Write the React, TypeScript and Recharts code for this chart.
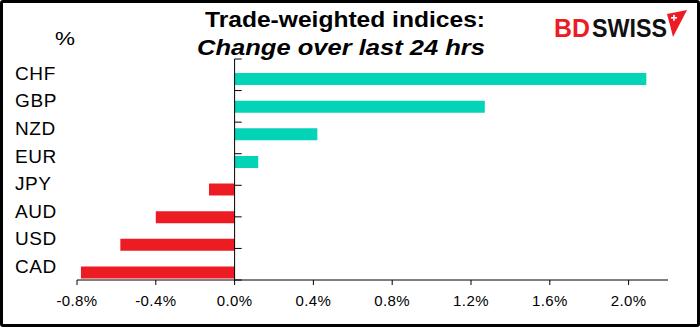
import { BarChart, Bar, XAxis, YAxis, ReferenceLine, Cell } from 'recharts';

// Trade-weighted index change over last 24 hrs, %
const currencies = ['CHF', 'GBP', 'NZD', 'EUR', 'JPY', 'AUD', 'USD', 'CAD'];
const changes = [2.09, 1.27, 0.42, 0.12, -0.13, -0.4, -0.58, -0.78];
const xTicks = [-0.8, -0.4, 0, 0.4, 0.8, 1.2, 1.6, 2.0];
const bandEdges = [0, 1, 2, 3, 4, 5, 6, 7];

const UP = '#03d3b7';
const DOWN = '#ed1c24';
const FONT = '"Liberation Sans", Arial, sans-serif';

const data = currencies.map((ccy, i) => ({ ccy, change: changes[i] }));

function CcyTick({ y, payload }: any) {
  return (
    <text x={15} y={y} dy="0.36em" fontSize={19} fill="#000" fontFamily={FONT} letterSpacing={0.6}>
      {payload.value}
    </text>
  );
}

export default function App() {
  return (
    <div style={{ position: 'relative', width: 700, height: 327, background: '#fff', fontFamily: FONT }}>
      <style>{'body{margin:0}'}</style>
      <BarChart
        width={700}
        height={327}
        data={data}
        layout="vertical"
        margin={{ top: 59, right: 32, bottom: 0, left: 15 }}
        barSize={12}
        barGap={1}
      >
        <XAxis
          type="number"
          domain={[-0.8, 2.2]}
          ticks={xTicks}
          interval={0}
          allowDataOverflow
          tickFormatter={(v: number) => v.toFixed(1) + '%'}
          axisLine={{ stroke: '#000' }}
          tickLine={{ stroke: '#000' }}
          tickSize={5}
          tickMargin={10}
          height={47}
          tick={{ fill: '#000', fontSize: 15, letterSpacing: 0.4 }}
        />
        <YAxis
          yAxisId="cat"
          type="category"
          dataKey="ccy"
          width={62}
          interval={0}
          axisLine={false}
          tickLine={false}
          tick={<CcyTick />}
        />
        <YAxis yAxisId="edge" type="number" domain={[0, 8]} reversed hide />
        <Bar yAxisId="cat" dataKey="pad" fill="none" isAnimationActive={false} />
        <Bar yAxisId="cat" dataKey="change" isAnimationActive={false}>
          {data.map((d) => (
            <Cell key={d.ccy} fill={d.change >= 0 ? UP : DOWN} />
          ))}
        </Bar>
        <ReferenceLine yAxisId="cat" x={0} stroke="#000" strokeWidth={1} />
        {bandEdges.map((k) => (
          <ReferenceLine
            key={k}
            yAxisId="edge"
            segment={[{ x: 0, y: k }, { x: 0.036, y: k }]}
            stroke="#000"
          />
        ))}
      </BarChart>

      <svg width={700} height={327} style={{ position: 'absolute', left: 0, top: 0, pointerEvents: 'none' }}>
        <text x={345} y={26.5} textAnchor="middle" fontSize={22} fontWeight="bold" fill="#000"
          textLength={280} lengthAdjust="spacingAndGlyphs">
          Trade-weighted indices:
        </text>
        <text x={341} y={55} textAnchor="middle" fontSize={22} fontWeight="bold" fontStyle="italic" fill="#000"
          textLength={288} lengthAdjust="spacingAndGlyphs">
          Change over last 24 hrs
        </text>
        <text x={55} y={45} fontSize={19} fill="#000" textLength={20} lengthAdjust="spacingAndGlyphs">%</text>

        <text x={554} y={36.5} fontSize={26} fontWeight="bold" fill={DOWN} textLength={36} lengthAdjust="spacingAndGlyphs">BD</text>
        <text x={592} y={36.5} fontSize={26} fontWeight="bold" fill="#111" textLength={75} lengthAdjust="spacingAndGlyphs">SWISS</text>
        <polygon points="667,14 687,10 673,37 670,25" fill={DOWN} />
        <rect x={671} y={17} width={6} height={1.6} fill="#fff" />
        <rect x={673.2} y={14.8} width={1.6} height={6} fill="#fff" />
      </svg>

      <div style={{
        position: 'absolute', left: 0, top: 0, width: 700, height: 327, boxSizing: 'border-box',
        border: '3px solid #000', borderRadius: 3, pointerEvents: 'none',
      }} />
    </div>
  );
}
